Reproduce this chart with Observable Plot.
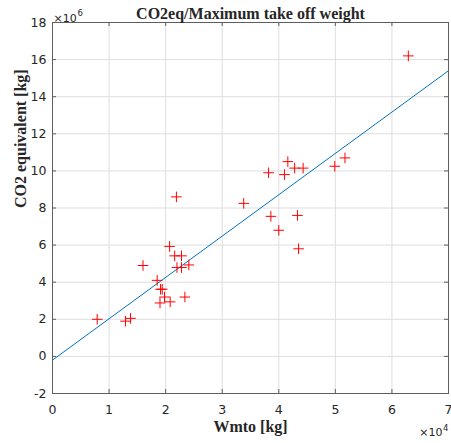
<!DOCTYPE html>
<html>
<head>
<meta charset="utf-8">
<script src="https://cdn.jsdelivr.net/npm/d3@7"></script>
<script src="https://cdn.jsdelivr.net/npm/@observablehq/plot@0.6"></script>
<style>
  html, body { margin: 0; padding: 0; background: #fff; }
</style>
</head>
<body>
<div id="chart"></div>
<script>
const wmto = [7900, 12900, 13800, 16000, 18500, 19100, 19400, 19800, 19000, 20800, 20700, 21900, 21600, 22800, 22000, 22800, 24100, 23400, 33800, 38200, 38600, 40000, 41000, 41600, 42800, 44300, 43300, 43500, 49900, 51700, 62900];
const co2  = [2.0e6, 1.9e6, 2.05e6, 4.9e6, 4.1e6, 3.62e6, 3.62e6, 3.2e6, 2.88e6, 2.94e6, 5.93e6, 8.6e6, 5.42e6, 5.42e6, 4.79e6, 4.79e6, 4.93e6, 3.2e6, 8.25e6, 9.9e6, 7.55e6, 6.8e6, 9.8e6, 10.5e6, 10.15e6, 10.15e6, 7.6e6, 5.8e6, 10.25e6, 10.7e6, 16.2e6];
const fitX = [0, 70000];
const fitY = [-0.2e6, 15.4e6];
const xTicks = [0, 10000, 20000, 30000, 40000, 50000, 60000, 70000];
const xTickLabels = ["0", "1", "2", "3", "4", "5", "6", "7"];
const yTicks = [-2e6, 0, 2e6, 4e6, 6e6, 8e6, 10e6, 12e6, 14e6, 16e6, 18e6];
const yTickLabels = ["-2", "0", "2", "4", "6", "8", "10", "12", "14", "16", "18"];
const title = "CO2eq/Maximum take off weight";
const xLabel = "Wmto [kg]";
const yLabel = "CO2 equivalent [kg]";

const points = wmto.map((x, i) => ({x, y: co2[i]}));
const fit = fitX.map((x, i) => ({x, y: fitY[i]}));

const W = 451, H = 443, mL = 52, mR = 3, mT = 22, mB = 50;
const ph = H - mT - mB, pw = W - mL - mR;
const tickLen = 4;
const serif = "'Liberation Serif', 'DejaVu Serif', serif";
const axisColor = "#5e5e5e";
const textColor = "#262626";

const plot = Plot.plot({
  width: W, height: H,
  marginLeft: mL, marginRight: mR, marginTop: mT, marginBottom: mB,
  style: {fontFamily: "'DejaVu Sans', sans-serif", fontSize: "12px", color: textColor, background: "#fff"},
  x: {domain: [0, 70000]},
  y: {domain: [-2e6, 18e6]},
  marks: [
    Plot.gridX(xTicks, {stroke: "#dedede", strokeOpacity: 1, strokeWidth: 1}),
    Plot.gridY(yTicks, {stroke: "#dedede", strokeOpacity: 1, strokeWidth: 1}),
    // inward ticks
    Plot.ruleX(xTicks, {x: d => d, insetTop: ph - tickLen, stroke: axisColor}),
    Plot.ruleX(xTicks, {x: d => d, insetBottom: ph - tickLen, stroke: axisColor}),
    Plot.ruleY(yTicks, {y: d => d, insetRight: pw - tickLen, stroke: axisColor}),
    Plot.ruleY(yTicks, {y: d => d, insetLeft: pw - tickLen, stroke: axisColor}),
    Plot.frame({stroke: axisColor, strokeWidth: 1}),
    Plot.axisX(xTicks, {tickSize: 0, tickPadding: 12, tickFormat: (d, i) => xTickLabels[i], fill: textColor, fontSize: 12.5, label: null}),
    Plot.axisY(yTicks, {tickSize: 0, tickPadding: 6, tickFormat: (d, i) => yTickLabels[i], fill: textColor, fontSize: 12.5, label: null}),
    Plot.line(fit, {x: "x", y: "y", stroke: "#0072bd", strokeWidth: 1}),
    Plot.dot(points, {x: "x", y: "y", symbol: "plus", r: 3.5, stroke: "#ff0000", strokeWidth: 1}),
    // titles
    Plot.text([title], {frameAnchor: "top", dy: -15, fontFamily: serif, fontWeight: "bold", fontSize: 16, fill: textColor}),
    Plot.text([xLabel], {frameAnchor: "bottom", dy: 38, fontFamily: serif, fontWeight: "bold", fontSize: 16, fill: textColor}),
    Plot.text([yLabel], {frameAnchor: "left", dx: -32, rotate: -90, fontFamily: serif, fontWeight: "bold", fontSize: 16, fill: textColor}),
    // exponents
    Plot.text(["×10"], {frameAnchor: "top-left", textAnchor: "start", dx: 1, dy: -8, fontSize: 11, fill: textColor}),
    Plot.text(["6"], {frameAnchor: "top-left", textAnchor: "start", dx: 25, dy: -13, fontSize: 8.5, fill: textColor}),
    Plot.text(["×10"], {frameAnchor: "bottom-right", textAnchor: "end", dx: -6, dy: 42, fontSize: 11, fill: textColor}),
    Plot.text(["4"], {frameAnchor: "bottom-right", textAnchor: "end", dx: 0, dy: 37, fontSize: 8.5, fill: textColor})
  ]
});
document.getElementById("chart").appendChild(plot);
</script>
</body>
</html>
